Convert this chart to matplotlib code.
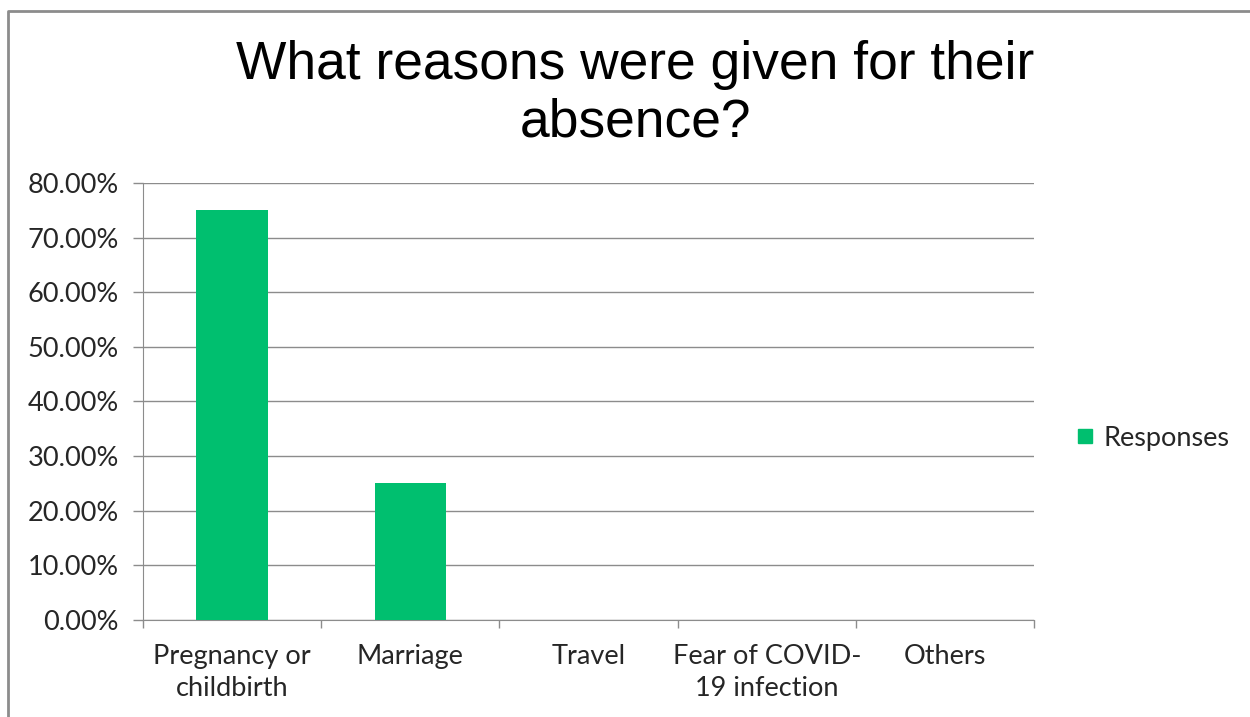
import matplotlib.pyplot as plt
from matplotlib.lines import Line2D
from matplotlib.ticker import PercentFormatter

# survey answers
categories = ['Pregnancy or\nchildbirth', 'Marriage', 'Travel', 'Fear of COVID-\n19 infection', 'Others']
responses = [75.0, 25.0, 0.0, 0.0, 0.0]

green = '#00BF6F'
grey = '#8C8C8C'
txt = '#262626'

fig = plt.figure(figsize=(12.5, 7.17), dpi=100)
ax = fig.add_axes([0.1144, 0.1353, 0.7128, 0.6095])

x = range(len(categories))
ax.bar(x, responses, width=0.4, color=green, zorder=3)

ax.set_xlim(-0.5, len(categories) - 0.5)
ax.set_ylim(0, 80)
ax.set_yticks(range(0, 81, 10))
ax.yaxis.set_major_formatter(PercentFormatter(decimals=2))
ax.grid(axis='y', color=grey, linewidth=1, zorder=0)

# category ticks sit between the bars
ax.set_xticks([i + 0.5 for i in range(-1, len(categories))], minor=False)
ax.set_xticklabels([])
ax.set_xticks(list(x), minor=True)
ax.set_xticklabels(categories, minor=True, fontsize=19.5, fontfamily='Lato', color=txt, linespacing=1.38)
ax.tick_params(axis='x', which='minor', length=0, pad=17)
ax.tick_params(axis='x', which='major', length=6, color=grey, width=1)
ax.tick_params(axis='y', length=7.2, color=grey, width=1, labelsize=19.5, labelcolor=txt, pad=10)
for lab in ax.get_yticklabels():
    lab.set_fontfamily('Lato')

for side in ['top', 'right']:
    ax.spines[side].set_visible(False)
ax.spines['left'].set_color(grey)
ax.spines['bottom'].set_color(grey)

fig.text(0.508, 0.869, 'What reasons were given for their\nabsence?', ha='center', va='center',
         fontsize=38.4, fontfamily='Liberation Sans', linespacing=1.2)

handle = Line2D([], [], marker='s', linestyle='none', markersize=10.5, color=green)
fig.legend([handle], ['Responses'], loc='center left', bbox_to_anchor=(0.857, 0.389),
           frameon=False, prop={'family': 'Lato', 'size': 19.5}, handletextpad=0.2,
           handlelength=1.0, labelcolor=txt, borderpad=0, borderaxespad=0)

# outer chart border
fig.add_artist(Line2D([0.0064, 0.0064, 1.0], [0.0, 0.985, 0.985], color=grey, linewidth=2))

fig.savefig('out.png')
